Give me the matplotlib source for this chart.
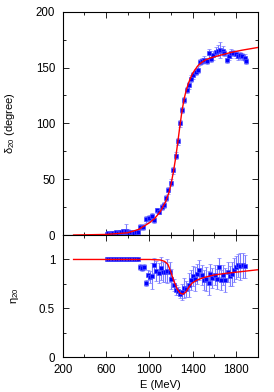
"""Phase shift and inelasticity of the D-wave (l=2, I=0) partial wave vs energy."""
import matplotlib

matplotlib.use("Agg")
import matplotlib.pyplot as plt  # noqa: E402
from matplotlib.ticker import MultipleLocator  # noqa: E402

plt.rcParams["font.family"] = ["Liberation Sans", "DejaVu Sans"]
plt.rcParams["mathtext.fontset"] = "custom"
plt.rcParams["mathtext.rm"] = "Liberation Sans"
plt.rcParams["mathtext.default"] = "rm"

# --- measured points: phase shift delta_20 (degree) ---
E_delta = [605, 620, 635, 650, 665, 680, 695, 710, 725, 740, 755, 770, 785, 800,
           815, 830, 845, 860, 875, 890,
           913, 944, 966, 996, 1021, 1043, 1068, 1092, 1114, 1135, 1157, 1175,
           1197, 1221, 1243, 1261, 1285, 1304, 1322, 1344, 1366, 1384, 1406,
           1427, 1446, 1467, 1489, 1507, 1529, 1550, 1569, 1590, 1612, 1630,
           1652, 1674, 1692, 1714, 1735, 1754, 1775, 1797, 1815, 1837, 1858,
           1877, 1889]
delta = [1, 1.5, 1, 2, 1.5, 1, 2.5, 2, 3, 2.5, 3.5, 3, 4, 3,
         2, 2.5, 1.5, 2, 2.5, 3,
         7, 7, 14, 15, 17, 13, 22, 21, 25, 27, 33, 40,
         47, 58, 71, 84, 100, 112, 121, 130, 134, 140, 143,
         146, 148, 155, 156, 157, 156, 163, 158, 161, 164, 165,
         166, 165, 163, 157, 160, 163, 163, 162, 160, 161, 160,
         159, 156]
delta_err = [1, 1, 1, 1, 1, 1, 1, 1, 1.5, 1.5, 2, 2, 6, 2,
             1.5, 1.5, 1.5, 2, 2, 2,
             2.5, 2.5, 3, 3, 2.5, 2.5, 2.5, 2.5, 2.5, 2.5, 2.5, 3,
             3, 3, 3, 3, 3, 3, 3, 3, 3, 3, 3,
             3, 3, 3, 3, 3, 3, 4, 3, 4, 4, 5,
             7, 4, 3, 3, 3, 4, 3, 3, 3, 3, 3,
             3, 3]

# --- measured points: inelasticity eta_20 ---
E_eta = [605, 620, 635, 650, 665, 680, 695, 710, 725, 740, 755, 770, 785, 800,
         815, 830, 845, 860, 875, 890,
         910, 932, 953, 968, 986, 1008, 1027, 1045, 1064, 1086, 1107, 1126,
         1148, 1163, 1185, 1203, 1225, 1246, 1264, 1280, 1301, 1323, 1341,
         1363, 1384, 1402, 1424, 1443, 1461, 1483, 1501, 1523, 1545, 1563,
         1581, 1603, 1624, 1643, 1661, 1683, 1701, 1723, 1741, 1760, 1778,
         1797, 1818, 1840, 1861, 1880]
eta = [1] * 20 + [
    0.92, 0.91, 0.925, 0.76, 0.84, 0.82, 0.83, 0.94, 0.88, 0.86, 0.91, 0.87,
    0.87, 0.88, 0.87, 0.80, 0.74, 0.69, 0.68, 0.65, 0.67, 0.71, 0.70,
    0.74, 0.79, 0.83, 0.80, 0.85, 0.89, 0.84, 0.79, 0.80, 0.76, 0.85,
    0.81, 0.84, 0.80, 0.92, 0.79, 0.84, 0.79, 0.87, 0.83, 0.85, 0.89,
    0.92, 0.94, 0.93, 0.94, 0.93]
eta_err = [0] * 20 + [
    0.03, 0.03, 0.03, 0.03, 0.05, 0.06, 0.13, 0.08, 0.1, 0.1, 0.12, 0.1,
    0.1, 0.12, 0.1, 0.1, 0.06, 0.05, 0.04, 0.04, 0.08, 0.1, 0.08,
    0.12, 0.1, 0.1, 0.12, 0.1, 0.1, 0.1, 0.1, 0.12, 0.12, 0.1,
    0.1, 0.1, 0.1, 0.1, 0.1, 0.1, 0.12, 0.1, 0.1, 0.12, 0.12,
    0.12, 0.12, 0.14, 0.13, 0.12]

# --- fitted curves ---
E_fit_d = [300, 600, 800, 900, 1000, 1050, 1100, 1150, 1180, 1200, 1220, 1240,
           1260, 1280, 1300, 1320, 1340, 1360, 1380, 1400, 1420, 1450, 1480,
           1520, 1560, 1650, 1750, 1850, 2000]
delta_fit = [0, 0.5, 2, 5, 11, 15, 21, 30, 38, 46, 56, 68, 82, 97, 111, 122,
             130, 136, 141, 145, 148, 152, 154.5, 157, 158.5, 161, 163.5, 165.5, 168]
E_fit_e = [300, 1000, 1100, 1140, 1170, 1195, 1225, 1255, 1285, 1310, 1335,
           1365, 1395, 1440, 1500, 1590, 1715, 1840, 2000]
eta_fit = [1, 1, 0.995, 0.98, 0.95, 0.88, 0.78, 0.70, 0.655, 0.645, 0.665,
           0.72, 0.76, 0.79, 0.815, 0.84, 0.86, 0.875, 0.895]

fig = plt.figure(figsize=(2.74, 3.92), dpi=100)
ax1 = fig.add_axes([0.229, 0.4005, 0.712, 0.5695])
ax2 = fig.add_axes([0.229, 0.0885, 0.712, 0.312])

pt = dict(fmt="s", ms=2.6, mfc="#0000ff", mec="#4a4aff", mew=0.5,
          ecolor="#7a7aff", elinewidth=0.8, capsize=1.6, capthick=0.8, zorder=3)

ax1.plot(E_fit_d, delta_fit, color="red", lw=1.0, zorder=4)
ax1.errorbar(E_delta, delta, yerr=delta_err, **pt)
ax2.plot(E_fit_e, eta_fit, color="red", lw=1.0, zorder=4)
ax2.errorbar(E_eta, eta, yerr=eta_err, **pt)

ax1.set_ylim(0, 200)
ax2.set_ylim(0, 1.25)
ax1.yaxis.set_major_locator(MultipleLocator(50))
ax1.yaxis.set_minor_locator(MultipleLocator(25))
ax2.set_yticks([0, 0.5, 1])
ax2.set_yticklabels(["0", "0.5", "1"])
ax2.yaxis.set_minor_locator(MultipleLocator(0.25))

for ax in (ax1, ax2):
    ax.set_xlim(200, 2000)
    ax.xaxis.set_minor_locator(MultipleLocator(200))
    ax.set_xticks([200, 600, 1000, 1400, 1800])
    ax.tick_params(which="both", direction="in", top=True, right=True,
                   labelsize=8.3, width=0.6)
    ax.tick_params(axis="y", pad=5.5)
    ax.tick_params(axis="x", pad=5)
    ax.tick_params(which="major", length=4)
    ax.tick_params(which="minor", length=2)
    for s in ax.spines.values():
        s.set_linewidth(0.8)
ax1.tick_params(labelbottom=False)

ax1.set_ylabel(r"δ$_{20}$ (degree)", fontsize=8)
ax1.yaxis.set_label_coords(-0.235, 0.5)
ax2.set_ylabel(r"η$_{20}$", fontsize=8)
ax2.yaxis.set_label_coords(-0.215, 0.5)
ax2.set_xlabel("E (MeV)", fontsize=8)
ax2.xaxis.set_label_coords(0.5, -0.185)

fig.savefig("out.png", dpi=100)
plt.close(fig)
